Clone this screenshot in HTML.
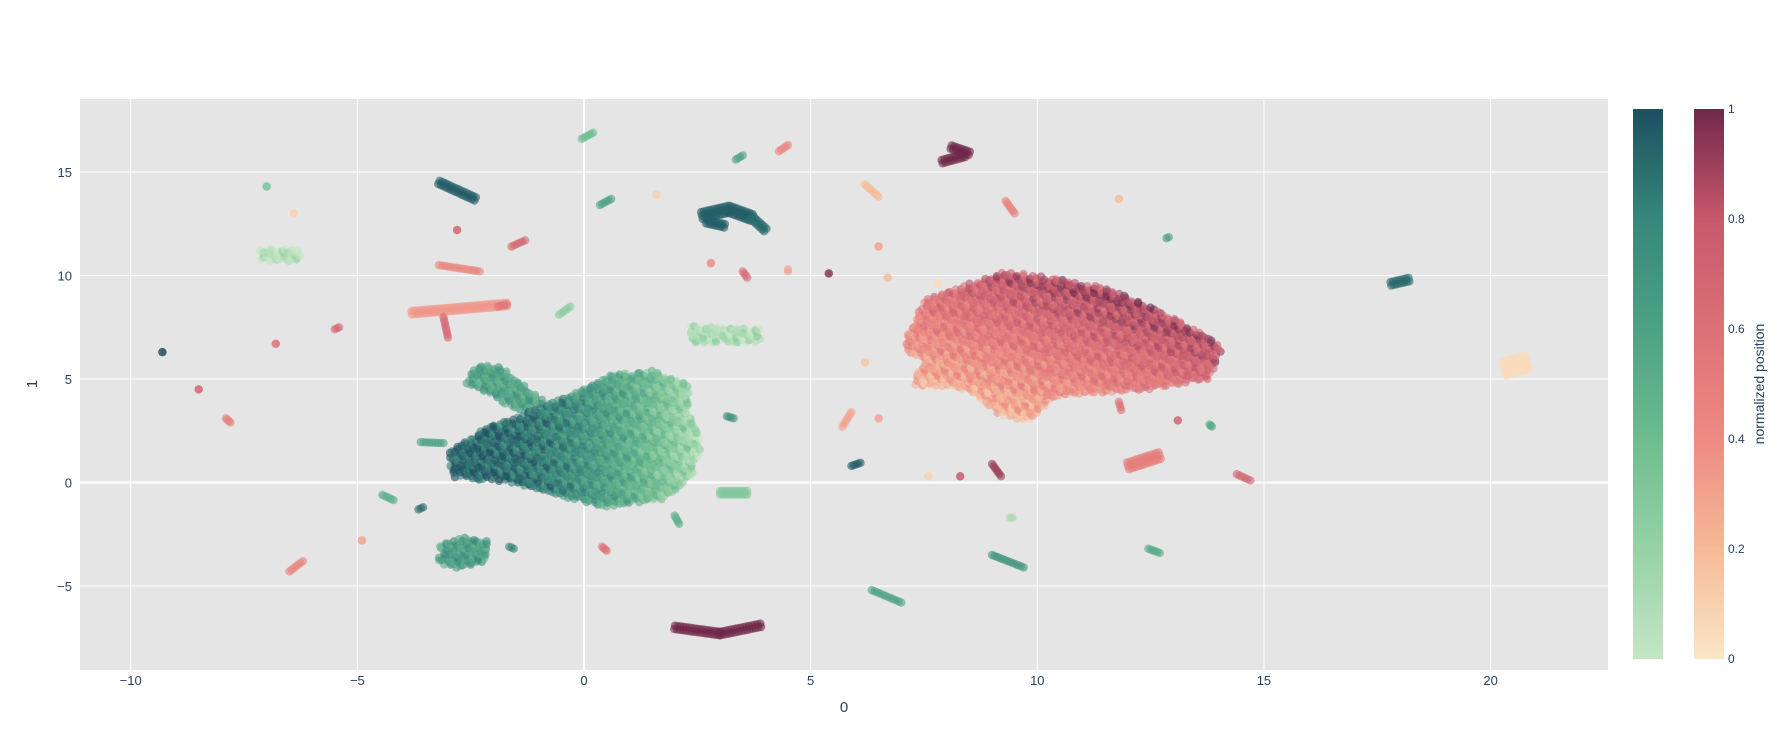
<!DOCTYPE html>
<html><head><meta charset="utf-8">
<style>
body{margin:0;background:#fff;font-family:"Liberation Sans",sans-serif;}
svg text{font-family:"Liberation Sans",sans-serif;fill:#2a3f5f;}
</style></head>
<body>
<svg id="chart" width="1788" height="750" xmlns="http://www.w3.org/2000/svg">
<defs>
<linearGradient id="gTeal" x1="0" y1="1" x2="0" y2="0">
<stop offset="0" stop-color="#c4e6c3"/><stop offset="0.2" stop-color="#96d2a4"/><stop offset="0.4" stop-color="#6dbc90"/><stop offset="0.6" stop-color="#4da284"/><stop offset="0.8" stop-color="#36877a"/><stop offset="1" stop-color="#1d4f60"/>
</linearGradient>
<linearGradient id="gRed" x1="0" y1="1" x2="0" y2="0">
<stop offset="0" stop-color="#fbe6c5"/><stop offset="0.2" stop-color="#f5ba98"/><stop offset="0.4" stop-color="#ee8a82"/><stop offset="0.6" stop-color="#dc7176"/><stop offset="0.8" stop-color="#c8586c"/><stop offset="1" stop-color="#70284a"/>
</linearGradient>
<clipPath id="clip"><rect x="80" y="99" width="1528" height="571"/></clipPath>
</defs>
<rect x="80" y="99" width="1528" height="571" fill="#e5e5e5"/>
<g id="grid"></g>
<g id="marks" clip-path="url(#clip)"></g>
<g id="axes"></g>
<rect x="1633" y="109" width="30" height="550" fill="url(#gTeal)"/>
<rect x="1694" y="109" width="30" height="550" fill="url(#gRed)"/>
<g id="cbticks"></g>
<text x="1764" y="384" font-size="14" text-anchor="middle" transform="rotate(-90 1764 384)">normalized position</text>
<text x="844" y="712" font-size="15" text-anchor="middle">0</text>
<text x="37" y="384" font-size="15" text-anchor="middle" transform="rotate(-90 37 384)">1</text>
</svg>
<script>
const xTicks=[-10,-5,0,5,10,15,20];
const yTicks=[-5,0,5,10,15];
const cbTicks=[0,0.2,0.4,0.6,0.8,1];
const cbLabels=["0","0.2","0.4","0.6","0.8","1"];
// small teal clusters: x1,y1,x2,y2,value,width
const tealX1=[-0.05,3.35,-3.2,-7.0,0.35,-0.55,-9.3,3.15,-3.6,3.0,-4.45,-3.65,2.0,-1.65,6.35,9.0,9.4,12.45,5.9,13.8,12.85,17.8,2.6,3.2,3.7,2.7];
const tealY1=[16.6,15.6,14.5,14.3,13.4,8.1,6.3,3.2,1.95,-0.5,-0.6,-1.3,-1.6,-3.1,-5.2,-3.5,-1.7,-3.2,0.8,2.8,11.8,9.6,12.9,13.2,12.8,12.6];
const tealX2=[0.2,3.5,-2.4,-7.0,0.6,-0.3,-9.3,3.3,-3.1,3.6,-4.2,-3.55,2.1,-1.55,7.0,9.7,9.45,12.7,6.1,13.85,12.9,18.2,3.2,3.7,4.0,3.1];
const tealY2=[16.9,15.8,13.7,14.3,13.7,8.5,6.3,3.1,1.9,-0.5,-0.85,-1.2,-2.0,-3.2,-5.8,-4.1,-1.7,-3.4,0.95,2.7,11.85,9.8,13.2,12.8,12.2,12.4];
const tealV=[0.4,0.6,0.95,0.35,0.6,0.25,1.0,0.7,0.6,0.3,0.5,0.9,0.5,0.8,0.6,0.7,0.15,0.55,0.95,0.55,0.65,0.9,0.95,0.95,0.9,0.95];
const tealW=[1,1,2,1,1,1,1,1,1,2,1,1,1,1,1,1,1,1,1,1,1,2,3,3,2,2];
// small red clusters
const redX1=[7.9,4.3,6.2,9.3,11.8,1.6,-6.4,-2.8,-1.6,6.5,-3.2,2.8,3.5,4.5,5.4,6.7,7.8,-3.8,-3.1,-5.5,-6.8,-8.5,-7.9,6.2,5.7,6.5,11.8,13.1,12.0,14.4,9.0,7.6,8.3,-4.9,0.4,-6.5,2.0,3.0,20.3,-1.9,8.1];
const redY1=[15.5,16.0,14.4,13.6,13.7,13.9,13.0,12.2,11.4,11.4,10.5,10.6,10.2,10.3,10.1,9.9,9.6,8.2,8.0,7.4,6.7,4.5,3.1,5.8,2.7,3.1,3.9,3.0,0.8,0.4,0.9,0.3,0.3,-2.8,-3.1,-4.3,-7.0,-7.3,5.5,8.5,16.2];
const redX2=[8.4,4.5,6.5,9.5,11.8,1.6,-6.4,-2.8,-1.3,6.5,-2.3,2.8,3.6,4.5,5.4,6.7,7.8,-1.7,-3.0,-5.4,-6.8,-8.5,-7.8,6.2,5.9,6.5,11.85,13.1,12.7,14.7,9.2,7.6,8.3,-4.9,0.5,-6.2,3.0,3.9,20.8,-1.7,8.5];
const redY2=[15.8,16.3,13.8,13.0,13.7,13.9,13.0,12.2,11.7,11.4,10.2,10.6,9.9,10.2,10.1,9.9,9.6,8.6,7.0,7.5,6.7,4.5,2.9,5.8,3.4,3.1,3.5,3.0,1.3,0.1,0.3,0.3,0.3,-2.8,-3.3,-3.8,-7.3,-6.9,5.8,8.6,15.9];
const redV=[1.0,0.45,0.2,0.45,0.2,0.1,0.1,0.7,0.7,0.3,0.45,0.4,0.65,0.3,0.95,0.2,0.05,0.35,0.65,0.7,0.6,0.7,0.5,0.15,0.3,0.3,0.6,0.7,0.5,0.7,0.9,0.1,0.8,0.3,0.6,0.45,1.0,1.0,0.05,0.55,1.0];
const redW=[2,1,1,1,1,1,1,1,1,1,1,1,1,1,1,1,1,2,1,1,1,1,1,1,1,1,1,1,3,1,1,1,1,1,1,1,2,2,5,1,2];
// big blob outlines (data coords)
const greenBlobX=[-2.9,-3.0,-2.2,-1.0,-0.3,0.5,1.5,2.3,2.3,2.6,2.4,1.8,0.5,-0.8,-2.0];
const greenBlobY=[0.2,1.5,2.6,3.6,4.2,5.2,5.4,4.8,3.5,1.8,0.4,-0.8,-1.2,-0.5,0.1];
const greenSpurX=[-2.4,-1.9,-0.8,-1.4,-2.6];
const greenSpurY=[5.6,5.7,3.8,3.4,4.8];
const redBlobX=[7.0,7.5,8.5,9.3,10.0,11.5,13.0,14.1,13.8,12.5,10.5,9.8,9.2,8.5,7.2,7.5];
const redBlobY=[6.6,8.8,9.6,10.2,10.0,9.4,8.0,6.6,5.0,4.5,4.2,3.0,3.2,4.5,4.7,5.8];
const lowGreenX=[-3.2,-2.6,-2.1,-2.2,-2.8,-3.2];
const lowGreenY=[-3.0,-2.6,-2.8,-3.8,-4.2,-3.9];
const lightBlobX=[-7.2,-6.3,-6.2,-7.2], lightBlobY=[11.3,11.3,10.7,10.7];
const paleBlobX=[2.3,3.9,3.9,2.4], paleBlobY=[7.6,7.4,6.8,6.7];

const X=v=>584+v*45.33, Y=v=>482.5-v*20.7;
const NS="http://www.w3.org/2000/svg";
const tealStops=["#c4e6c3","#96d2a4","#6dbc90","#4da284","#36877a","#1d4f60"];
const redStops=["#fbe6c5","#f5ba98","#ee8a82","#dc7176","#c8586c","#70284a"];
function hx(c){return [1,3,5].map(i=>parseInt(c.substr(i,2),16));}
function col(stops,v){v=Math.max(0,Math.min(1,v));const f=v*5,i=Math.min(4,Math.floor(f)),t=f-i;const a=hx(stops[i]),b=hx(stops[i+1]);return "rgb("+a.map((c,k)=>Math.round(c+(b[k]-c)*t)).join(",")+")";}
const grid=document.getElementById("grid"),axes=document.getElementById("axes"),marks=document.getElementById("marks");
xTicks.forEach(t=>{
 const l=document.createElementNS(NS,"line");
 l.setAttribute("x1",X(t));l.setAttribute("x2",X(t));l.setAttribute("y1",99);l.setAttribute("y2",670);
 l.setAttribute("stroke","#fff");l.setAttribute("stroke-width",t===0?2:1);
 
 
 grid.appendChild(l);
 const tx=document.createElementNS(NS,"text");
 tx.setAttribute("x",X(t));tx.setAttribute("y",685);tx.setAttribute("font-size","13");tx.setAttribute("text-anchor","middle");
 tx.textContent=t<0?"\u2212"+(-t):t;
 
 
 axes.appendChild(tx);
});
yTicks.forEach(t=>{
 const l=document.createElementNS(NS,"line");
 l.setAttribute("x1",80);l.setAttribute("x2",1608);l.setAttribute("y1",Y(t));l.setAttribute("y2",Y(t));
 l.setAttribute("stroke","#fff");l.setAttribute("stroke-width",t===0?2:1);
 
 
 grid.appendChild(l);
 const tx=document.createElementNS(NS,"text");
 tx.setAttribute("x",72);tx.setAttribute("y",Y(t)+5);tx.setAttribute("font-size","13");tx.setAttribute("text-anchor","end");
 tx.textContent=t<0?"\u2212"+(-t):t;
 
 
 axes.appendChild(tx);
});
const cbt=document.getElementById("cbticks");
cbTicks.forEach((t,i)=>{
 const tx=document.createElementNS(NS,"text");
 tx.setAttribute("x",1728);tx.setAttribute("y",659-t*550+4);tx.setAttribute("font-size","12");
 tx.textContent=cbLabels[i];
 
 
 cbt.appendChild(tx);
});
function dot(px,py,fill,name,op){
 const c=document.createElementNS(NS,"circle");
 c.setAttribute("cx",px.toFixed(1));c.setAttribute("cy",py.toFixed(1));c.setAttribute("r",4.2);
 c.setAttribute("fill",fill);c.setAttribute("fill-opacity",op||"0.6");
 
 
 marks.appendChild(c);
}
function inPoly(x,y,px,py){let ins=false;for(let i=0,j=px.length-1;i<px.length;j=i++){if(((py[i]>y)!=(py[j]>y))&&(x<(px[j]-px[i])*(y-py[i])/(py[j]-py[i])+px[i]))ins=!ins;}return ins;}
function blob(px,py,stops,vf,name){
 const x0=Math.min(...px),x1=Math.max(...px),y0=Math.min(...py),y1=Math.max(...py);
 let r=0;
 for(let y=y0;y<=y1;y+=0.16,r++){
  for(let x=x0+(r%3)*0.035;x<=x1;x+=0.1){
   const jx=Math.sin(x*53.1+y*11.7)*0.05, jy=Math.cos(x*23.3+y*41.9)*0.08;
   if(inPoly(x+jx,y+jy,px,py)){const w=Math.sin(x*37.1+y*17.3)*0.15;dot(X(x+jx),Y(y+jy),col(stops,vf(x,y)+w),name,"0.6");}
  }
 }
}
blob(greenSpurX,greenSpurY,tealStops,(x,y)=>0.6,'green-cluster-point');
blob(greenBlobX,greenBlobY,tealStops,(x,y)=>{const t=(x+3)/5.6;return 0.95-0.85*t*t;},'green-cluster-point');
blob(redBlobX,redBlobY,redStops,(x,y)=>0.05+0.6*(y-3)/7+0.45*(x-7)/7,'red-cluster-point');
blob(lowGreenX,lowGreenY,tealStops,(x,y)=>0.65,'low-green-cluster-point');
blob(lightBlobX,lightBlobY,tealStops,(x,y)=>0.05,'light-green-cluster-point');
blob(paleBlobX,paleBlobY,tealStops,(x,y)=>0.12,'pale-green-cluster-point');
function segs(x1,y1,x2,y2,v,w,stops,name){
 for(let i=0;i<x1.length;i++){
  const ax=X(x1[i]),ay=Y(y1[i]),bx=X(x2[i]),by=Y(y2[i]);
  const len=Math.hypot(bx-ax,by-ay),n=Math.max(1,Math.ceil(len/3));
  const nx=len?-(by-ay)/len:0, ny=len?(bx-ax)/len:1;
  for(let k=0;k<=n;k++){
   const t=k/n,cx=ax+(bx-ax)*t,cy=ay+(by-ay)*t;
   for(let j=0;j<w[i];j++){const o=(j-(w[i]-1)/2)*3.5;dot(cx+nx*o,cy+ny*o,col(stops,v[i]),name);}
  }
 }
}
segs(tealX1,tealY1,tealX2,tealY2,tealV,tealW,tealStops,'teal-cluster-point');
segs(redX1,redY1,redX2,redY2,redV,redW,redStops,'red-cluster-point');
</script>
</body></html>
